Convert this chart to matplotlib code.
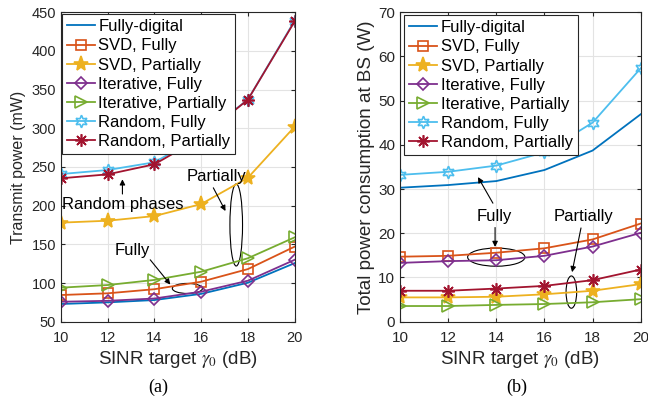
import matplotlib
matplotlib.use('Agg')
import matplotlib.pyplot as plt
from matplotlib.patches import Ellipse

plt.rcParams['font.family'] = ['Liberation Sans', 'DejaVu Sans']
plt.rcParams['mathtext.fontset'] = 'stix'

sinr = [10, 12, 14, 16, 18, 20]
labels = ['Fully-digital', 'SVD, Fully', 'SVD, Partially', 'Iterative, Fully',
          'Iterative, Partially', 'Random, Fully', 'Random, Partially']

# (a) transmit power, mW
tx_fd = [72.9, 75.0, 78.0, 86.0, 100.4, 125.7]
tx_svd_f = [84.5, 86.7, 92.0, 101.7, 118.0, 147.0]
tx_svd_p = [178.0, 180.5, 186.5, 202.0, 236.0, 302.0]
tx_it_f = [75.8, 77.0, 80.0, 88.8, 103.0, 130.0]
tx_it_p = [94.0, 97.4, 104.0, 114.6, 132.0, 159.0]
tx_rnd_f = [240.8, 246.0, 256.0, 290.0, 337.0, 439.0]
tx_rnd_p = [235.3, 240.4, 253.4, 288.0, 337.0, 438.0]

# (b) total power consumption, W
pc_fd = [30.3, 30.9, 31.8, 34.3, 38.7, 46.9]
pc_svd_f = [14.7, 14.9, 15.6, 16.6, 18.6, 22.2]
pc_svd_p = [5.5, 5.5, 5.65, 6.2, 7.0, 8.5]
pc_it_f = [13.3, 13.7, 13.9, 14.9, 17.0, 20.1]
pc_it_p = [3.55, 3.55, 3.8, 4.0, 4.4, 5.1]
pc_rnd_f = [33.2, 33.9, 35.3, 38.3, 45.0, 57.3]
pc_rnd_p = [7.0, 7.0, 7.5, 8.1, 9.4, 11.8]

colors = ['#0072BD', '#D95319', '#EDB120', '#7E2F8E', '#77AC30', '#4DBEEE', '#A2142F']
styles = [
    dict(marker=None),
    dict(marker='s', ms=6.5, mfc='none'),
    dict(marker='*', ms=11),
    dict(marker='D', ms=6.5, mfc='none'),
    dict(marker='>', ms=8, mfc='none'),
    dict(marker=(6, 1, 0), ms=9, mfc='none'),
    dict(marker=(8, 2, 0), ms=9),
]


def draw(ax, series, tsize):
    for y, c, st, lab in zip(series, colors, styles, labels):
        ax.plot(sinr, y, color=c, lw=1.3, mew=1.2, label=lab, **st)
    ax.set_xlim(10, 20)
    ax.set_xticks(sinr)
    ax.grid(True, color='#e3e3e3', lw=0.8)
    ax.set_axisbelow(True)
    ax.tick_params(direction='in', top=True, right=True, labelsize=tsize,
                   length=3, color='#262626', labelcolor='#262626')
    ax.tick_params(axis='x', pad=6.5)
    for s in ax.spines.values():
        s.set_color('#262626')
        s.set_linewidth(0.8)
    ax.set_xlabel(r'SINR target $\gamma_0$ (dB)', fontsize=13.5, color='#262626',
                  labelpad=3)


def arrow(ax, tip, tail):
    ax.annotate('', xy=tip, xytext=tail,
                arrowprops=dict(arrowstyle='-|>', color='k', lw=0.8,
                                mutation_scale=8, shrinkA=0, shrinkB=0))


fig = plt.figure(figsize=(6.48, 4.0), dpi=100)
ax1 = fig.add_axes([0.0941, 0.1957, 0.3606, 0.774])
ax2 = fig.add_axes([0.6173, 0.1957, 0.3714, 0.774])

draw(ax1, [tx_fd, tx_svd_f, tx_svd_p, tx_it_f, tx_it_p, tx_rnd_f, tx_rnd_p], 10.5)
ax1.set_ylim(50, 450)
ax1.set_yticks(range(50, 451, 50))
ax1.set_ylabel('Transmit power (mW)', fontsize=11.5, color='#262626')

draw(ax2, [pc_fd, pc_svd_f, pc_svd_p, pc_it_f, pc_it_p, pc_rnd_f, pc_rnd_p], 11)
ax2.set_ylim(0, 70)
ax2.set_yticks(range(0, 71, 10))
ax2.set_ylabel('Total power consumption at BS (W)', fontsize=13.5, color='#262626',
               labelpad=2)

for ax, anchor in [(ax1, (0.003, 0.993)), (ax2, (0.016, 0.99))]:
    leg = ax.legend(loc='upper left', bbox_to_anchor=anchor, borderaxespad=0,
                    fontsize=12, fancybox=False, framealpha=1,
                    edgecolor='#262626', handlelength=1.7, handletextpad=0.2,
                    labelspacing=0.25, borderpad=0.3)
    leg.get_frame().set_linewidth(0.8)

# (a) annotations
arrow(ax1, (12.63, 234), (12.63, 215))
ax1.text(10.05, 202, 'Random phases', fontsize=12, va='center', ha='left')
ax1.text(16.65, 237, 'Partially', fontsize=12, va='center', ha='center')
arrow(ax1, (17.04, 193), (16.52, 223))
ax1.add_patch(Ellipse((17.5, 175), 0.54, 106, fill=False, ec='k', lw=0.8))
ax1.text(13.05, 142, 'Fully', fontsize=12, va='center', ha='center')
arrow(ax1, (14.68, 98), (13.82, 130))
ax1.add_patch(Ellipse((15.41, 93), 1.29, 13, fill=False, ec='k', lw=0.8))

# (b) annotations
ax2.text(13.93, 23.7, 'Fully', fontsize=12, va='center', ha='center')
arrow(ax2, (13.24, 32.7), (13.86, 26.8))
arrow(ax2, (13.95, 16.9), (13.95, 21.3))
ax2.add_patch(Ellipse((14.0, 14.6), 2.38, 4.1, fill=False, ec='k', lw=0.8))
ax2.text(17.62, 23.7, 'Partially', fontsize=12, va='center', ha='center')
arrow(ax2, (17.15, 11.2), (17.52, 21.2))
ax2.add_patch(Ellipse((17.12, 6.7), 0.44, 7.3, fill=False, ec='k', lw=0.8))

fig.text(0.244, 0.032, '(a)', fontsize=13, family='Liberation Serif', ha='center', va='center')
fig.text(0.798, 0.032, '(b)', fontsize=13, family='Liberation Serif', ha='center', va='center')

fig.savefig('out.png', dpi=100)
